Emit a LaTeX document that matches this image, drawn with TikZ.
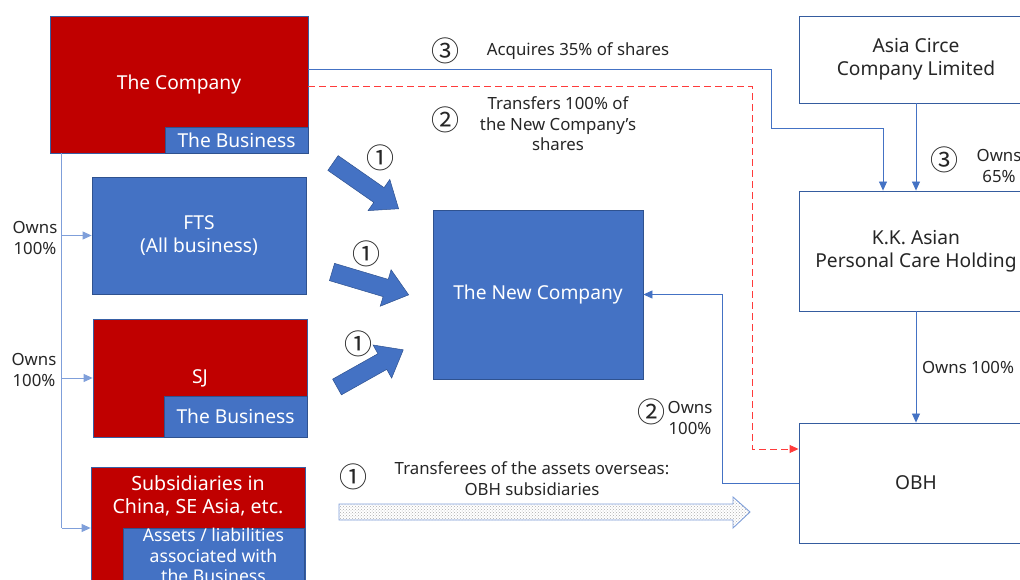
\documentclass[tikz,border=0pt]{standalone}
\usepackage{fontspec}
\setmainfont{Noto Sans}
\newfontfamily\cjk{Noto Sans CJK JP}
\usetikzlibrary{arrows.meta,patterns,calc}
\definecolor{cred}{HTML}{C00000}
\definecolor{cblue}{HTML}{4472C4}
\definecolor{cedge}{HTML}{2F528F}
\definecolor{cline}{HTML}{4472C4}
\definecolor{clight}{HTML}{7F9FDA}
\definecolor{ctext}{HTML}{262626}
\definecolor{credl}{HTML}{FF3B3B}
\begin{document}
\begin{tikzpicture}[x=1pt,y=-1pt,
  boxfont/.style={font=\fontsize{19.2}{23}\selectfont},
  redbox/.style={draw=cedge!60!cblue, fill=cred, line width=0.8pt, inner sep=0pt, text=white, boxfont, align=center},
  bluebox/.style={draw=cedge, fill=cblue, line width=0.8pt, inner sep=0pt, text=white, boxfont, align=center},
  outbox/.style={draw=cedge!70!cblue, fill=white, line width=0.9pt, inner sep=0pt, text=ctext, boxfont, align=center},
  wtxt/.style={text=white, inner sep=0pt, align=center},
  lbl/.style={text=ctext, font=\fontsize{16.8}{20.5}\selectfont, align=center, inner sep=0pt},
  num/.style={text=ctext, font=\cjk\fontsize{28}{28}\selectfont, inner sep=0pt},
  bline/.style={draw=cline, line width=0.8pt},
  barrow/.style={bline, -{Triangle[length=9pt,width=8pt]}},
  larrow/.style={draw=clight, line width=1pt, -{Triangle[length=9pt,width=8pt]}},
  rdash/.style={draw=credl, line width=0.9pt, dash pattern=on 7pt off 4pt, -{Triangle[length=9pt,width=8pt]}},
  blk/.style={fill=cblue, draw=cedge, line width=0.5pt},
]
\useasboundingbox (0,0) rectangle (1020,580);
\clip (0,0) rectangle (1020,580);

% left boxes
\node[redbox, minimum width=258pt, minimum height=137pt] (company) at (179,84.5) {The Company};
\node[bluebox, minimum width=143pt, minimum height=26pt] (cbiz) at (236.5,140) {The Business};
\node[bluebox, minimum width=214pt, minimum height=117pt] (fts) at (199,235.5) {FTS\\(All business)};
\node[redbox, minimum width=214pt, minimum height=118pt] (sj) at (200,378) {SJ};
\node[bluebox, minimum width=143pt, minimum height=41pt] (sjbiz) at (235.5,416.5) {The Business};
\node[redbox, minimum width=214pt, minimum height=150pt, anchor=north] (subs) at (198,467) {};
\node[wtxt, font=\fontsize{19.6}{23}\selectfont] (substxt) at (198,495.5) {Subsidiaries in\\China, SE Asia, etc.};
\node[bluebox, minimum width=181pt, minimum height=80pt, anchor=north west] (subsbiz) at (123,528) {};
\node[wtxt, font=\fontsize{17.6}{20.5}\selectfont] (subsbiztxt) at (213.5,555.5) {Assets / liabilities\\associated with\\the Business};

% centre
\node[bluebox, minimum width=210pt, minimum height=169pt] (newco) at (538,294.5) {The New Company};

% right boxes
\node[outbox, minimum width=234pt, minimum height=87pt] (asia) at (916,59.5) {Asia Circe\\Company Limited};
\node[outbox, minimum width=234pt, minimum height=120pt] (kk) at (916,251) {K.K. Asian\\Personal Care Holding};
\node[outbox, minimum width=234pt, minimum height=120pt] (obh) at (916,483) {OBH};

% left ownership tree
\coordinate (trunk) at ([xshift=12pt]company.south west);
\draw[draw=clight, line width=1pt] (trunk) -- (trunk |- subs.north west) -- ++(0,61);
\draw[larrow] (trunk |- fts.west) -- (fts.west);
\draw[larrow] (trunk |- sj.west) -- (sj.west);
\draw[larrow] ([yshift=-61pt]trunk |- subs.north west) -- ([yshift=-61pt]subs.north west);
\node[lbl] (ownfts) at (35,238) {Owns\\100\%};
\node[lbl] (ownsj) at (34,370) {Owns\\100\%};

% connectors
\draw[barrow] ([yshift=15.5pt]company.east) -| (771,128) -| ([xshift=-33pt]kk.north);
\draw[rdash] ([yshift=-1.5pt]company.east) -| (752,449) -- ([yshift=34pt]obh.west);
\draw[barrow] (obh.west) -| (722,294.5) -- (newco.east);
\draw[barrow] (asia.south) -- (kk.north);
\draw[barrow] (kk.south) -- (obh.north);

% block arrows
\begin{scope}[shift={(333,163)}, rotate=-34.9]
\draw[blk] (0,-9) -- (56,-9) -- (56,-19) -- (80,0) -- (56,19) -- (56,9) -- (0,9) -- cycle;
\end{scope}
\begin{scope}[shift={(332,272)}, rotate=-16.6]
\draw[blk] (0,-9) -- (56,-9) -- (56,-19) -- (80,0) -- (56,19) -- (56,9) -- (0,9) -- cycle;
\end{scope}
\begin{scope}[shift={(337,387)}, rotate=29.3]
\draw[blk] (0,-9) -- (52,-9) -- (52,-19) -- (76,0) -- (52,19) -- (52,9) -- (0,9) -- cycle;
\end{scope}

% stippled arrow
\draw[draw=clight, line width=0.9pt, pattern=crosshatch dots, pattern color=gray!65]
  (339,504) -- (733,504) -- (733,497) -- (750,512) -- (733,528) -- (733,520) -- (339,520) -- cycle;

% labels
\node[num] (n3a) at (445,51) {③};
\node[lbl] (acq) at (578,51) {Acquires 35\% of shares};
\node[num] (n2a) at (445,120) {②};
\node[lbl] (trf) at (558,124) {Transfers 100\% of\\the New Company’s\\shares};
\node[num] (n1a) at (380,158) {①};
\node[num] (n1b) at (366,254) {①};
\node[num] (n1c) at (358,344) {①};
\node[num] (n1d) at (353,477) {①};
\node[lbl] (trfe) at (532,478.5) {Transferees of the assets overseas:\\OBH subsidiaries};
\node[num] (n2b) at (651,412) {②};
\node[lbl] (own2) at (690,418) {Owns\\100\%};
\node[num] (n3b) at (944,160) {③};
\node[lbl] (own65) at (999,166) {Owns\\65\%};
\node[lbl] (own100r) at (968,367) {Owns 100\%};
\end{tikzpicture}
\end{document}
